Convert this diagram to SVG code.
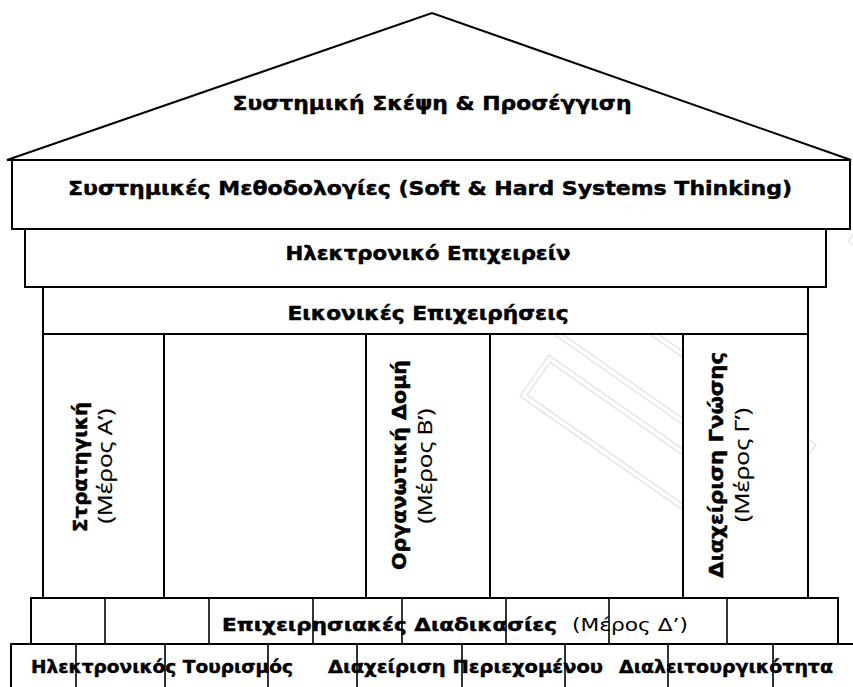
<svg xmlns="http://www.w3.org/2000/svg" width="853" height="687" viewBox="0 0 853 687">
  <style>
    .frame { fill: #ffffff; stroke: #000000; stroke-width: 2; }
    .div { stroke: #000000; stroke-width: 1.6; fill: none; }
    .b { font-family: "DejaVu Sans", Verdana, sans-serif; font-weight: bold; font-size: 19px; fill: #000000; stroke: #000000; stroke-width: 0.45; }
    .bs { font-family: "DejaVu Sans", Verdana, sans-serif; font-weight: bold; font-size: 18px; fill: #000000; stroke: #000000; stroke-width: 0.45; }
    .r { font-family: "DejaVu Sans", Verdana, sans-serif; font-size: 18px; fill: #000000; }
    .rc { font-family: "Open Sans", "Noto Sans", sans-serif; font-size: 20px; fill: #000000; stroke: #000000; stroke-width: 0.2; }
    .wm { fill: none; stroke: #e4e4e4; stroke-width: 1.4; }
  </style>

  <rect width="853" height="687" fill="#ffffff"/>

  <!-- faint meander watermark behind the building -->
  <g id="watermark" transform="translate(650,420) rotate(35)">
    <rect class="wm" x="-150" y="-75" width="300" height="60"/>
    <rect class="wm" x="-145" y="-70" width="290" height="50"/>
    <rect class="wm" x="-120" y="5" width="280" height="50"/>
    <rect class="wm" x="-115" y="10" width="270" height="40"/>
    <path class="wm" d="M-220,-150 H-40 V-105 H-175 V-40"/>
    <path class="wm" d="M-215,-145 H-45 V-110 H-180 V-40"/>
    <rect class="wm" x="60" y="-330" width="320" height="70"/>
    <rect class="wm" x="66" y="-324" width="308" height="58"/>
    <path class="wm" d="M180,-220 H420 V-120 H250"/>
    <path class="wm" d="M186,-214 H414 V-126 H250"/>
  </g>

  <!-- roof -->
  <g id="roof">
    <polygon class="frame" points="7,160 432,13 851,160"/>
    <text class="b" x="432" y="110" text-anchor="middle" textLength="399" lengthAdjust="spacingAndGlyphs">Συστημική Σκέψη &amp; Προσέγγιση</text>
  </g>

  <g id="methodologies">
    <rect class="frame" x="12" y="160" width="838" height="69"/>
    <text class="b" x="430" y="195" text-anchor="middle" textLength="724" lengthAdjust="spacingAndGlyphs">Συστημικές Μεθοδολογίες (Soft &amp; Hard Systems Thinking)</text>
  </g>

  <g id="ebusiness">
    <rect class="frame" x="25" y="229" width="801" height="58"/>
    <text class="b" x="428" y="260" text-anchor="middle" textLength="285" lengthAdjust="spacingAndGlyphs">Ηλεκτρονικό Επιχειρείν</text>
  </g>

  <g id="virtual">
    <rect class="frame" x="43" y="287" width="765" height="47"/>
    <text class="b" x="428" y="320" text-anchor="middle" textLength="281" lengthAdjust="spacingAndGlyphs">Εικονικές Επιχειρήσεις</text>
  </g>

  <!-- pillars -->
  <g id="strategy">
    <rect class="frame" x="43" y="334" width="121" height="264"/>
    <text class="b" transform="translate(87,467) rotate(-90)" text-anchor="middle" textLength="130" lengthAdjust="spacingAndGlyphs">Στρατηγική</text>
    <text class="rc" transform="translate(112,466) rotate(-90)" text-anchor="middle" textLength="115" lengthAdjust="spacingAndGlyphs">(Μέρος Α’)</text>
  </g>

  <g id="structure">
    <rect class="frame" x="366" y="334" width="124" height="264"/>
    <text class="b" transform="translate(406,465) rotate(-90)" text-anchor="middle" textLength="210" lengthAdjust="spacingAndGlyphs">Οργανωτική Δομή</text>
    <text class="rc" transform="translate(432,466) rotate(-90)" text-anchor="middle" textLength="115" lengthAdjust="spacingAndGlyphs">(Μέρος Β’)</text>
  </g>

  <g id="knowledge">
    <rect class="frame" x="683" y="334" width="125" height="264"/>
    <text class="b" transform="translate(723,465) rotate(-90)" text-anchor="middle" textLength="226" lengthAdjust="spacingAndGlyphs">Διαχείριση Γνώσης</text>
    <text class="rc" transform="translate(749,465) rotate(-90)" text-anchor="middle" textLength="114" lengthAdjust="spacingAndGlyphs">(Μέρος Γ’)</text>
  </g>

  <!-- base courses -->
  <g id="processes">
    <rect class="frame" x="31" y="598" width="807" height="46"/>
    <text class="bs" x="222" y="631" textLength="335" lengthAdjust="spacingAndGlyphs">Επιχειρησιακές Διαδικασίες</text>
    <text class="r" x="572" y="631" textLength="116" lengthAdjust="spacingAndGlyphs">(Μέρος Δ’)</text>
  </g>

  <g id="applications">
    <rect class="frame" x="11" y="644" width="870" height="60"/>
    <text class="bs" x="31" y="673" textLength="262" lengthAdjust="spacingAndGlyphs">Ηλεκτρονικός Τουρισμός</text>
    <text class="bs" x="328" y="673" textLength="275" lengthAdjust="spacingAndGlyphs">Διαχείριση Περιεχομένου</text>
    <text class="bs" x="619" y="673" textLength="214" lengthAdjust="spacingAndGlyphs">Διαλειτουργικότητα</text>
  </g>

  <!-- joints between the stones -->
  <g id="connectors">
    <path class="div" d="M105,598 V644 M209,598 V644 M313,598 V644 M402,598 V644 M506,598 V644 M609,598 V644 M727,598 V644"/>
    <path class="div" d="M76,644 V687 M165,644 V687 M268,644 V687 M357,644 V687 M462,644 V687 M565,644 V687 M668,644 V687 M773,644 V687"/>
  </g>
</svg>
